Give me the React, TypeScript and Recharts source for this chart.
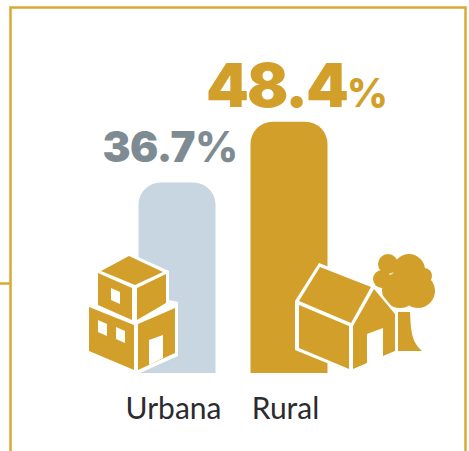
import React from 'react';
import { BarChart, Bar, XAxis, YAxis, Cell, LabelList } from 'recharts';

const categories = ['Urbana', 'Rural'];
const values = [36.7, 48.4];
const barColors = ['#C8D6E2', '#D2A02A'];
const labelColors = ['#7F8B93', '#D2A02A'];

const GOLD = '#D2A02A';
const data = categories.map((name, i) => ({ name, value: values[i] }));

const CategoryTick = ({ x, y, payload }: any) => (
  <text x={x - 3} y={y} textAnchor="middle" fontFamily="Lato, sans-serif" fontSize={30} fill="#2B2B30">
    {payload.value}
  </text>
);

const ValueLabel = ({ x, y, width, value, index }: any) => {
  const big = index === 1;
  const cx = x + width / 2 + (big ? 7 : -7);
  return (
    <text
      x={cx}
      y={y - (big ? 15 : 21)}
      textAnchor="middle"
      fontFamily="Inter, sans-serif"
      fontWeight={900}
      fill={labelColors[index]}
      fontSize={big ? 61 : 42}
      letterSpacing={big ? -2 : -0.5}
    >
      {value.toFixed(1)}
      <tspan fontSize={big ? 40 : 42} fontWeight={big ? 800 : 800}>%</tspan>
    </text>
  );
};

// Decorative frame and house/tree pictograms on top of the bars
const Decoration = () => (
  <svg width={469} height={451} style={{ position: 'absolute', left: 0, top: 0 }}>
    <path d="M0 283.5H10.5M10.5 451V7.5H465.5V451" fill="none" stroke="#D9A935" strokeWidth={2.5} />

    <polygon points="89,304 98,307 98,271 129,253 169,271 169,300 178,302 178,356 140,373 86,352" fill="#fff" />
    <polygon points="101,271 129,256 163,272 135,285" fill={GOLD} />
    <polygon points="98,273 132,288 132,320 98,305" fill={GOLD} />
    <polygon points="137,288 166,274 166,303 137,320" fill={GOLD} />
    <polygon points="89,307 134,325 134,370 89,351" fill={GOLD} />
    <polygon points="138,324 175,308 175,353 138,370" fill={GOLD} />
    <polygon points="111,288 120,292 120,304 111,300" fill="#fff" />
    <polygon points="98,320 107,324 107,336 98,332" fill="#fff" />
    <polygon points="116,327 125,331 125,343 116,339" fill="#fff" />
    <polygon points="149,340 163,335 163,358 149,365" fill="#fff" />

    <g fill={GOLD}>
      <circle cx={388} cy={264} r={10} />
      <circle cx={409} cy={270} r={16} />
      <circle cx={424} cy={276} r={8} />
      <circle cx={418} cy={291} r={17} />
      <circle cx={400} cy={290} r={18} />
      <circle cx={382} cy={279} r={9} />
      <path d="M398 312H410C411 330 411 341 422 351H398Z" />
    </g>
    <polygon points="295,301 319,263 374,285 398,314 398,352 353,372 349,372 295,350" fill="#fff" />
    <polygon points="320,267 371,287 351,323 299,301" fill={GOLD} />
    <polygon points="299,305 349,326 349,369 299,348" fill={GOLD} />
    <polygon points="353,326 374,289 395,314 395,351 383,356 383,328 367,334 367,363 353,369" fill={GOLD} />
  </svg>
);

export default function App() {
  return (
    <div style={{ position: 'absolute', left: 0, top: 0, width: 469, height: 451 }}>
      <BarChart
        width={469}
        height={451}
        data={data}
        margin={{ top: 61.6, right: 124.5, bottom: 0, left: 120.5 }}
      >
        <XAxis
          dataKey="name"
          axisLine={false}
          tickLine={false}
          interval={0}
          height={78}
          tickMargin={0}
          tick={(props: any) => <CategoryTick {...props} y={419} />}
        />
        <YAxis hide domain={[0, 60]} />
        <Bar dataKey="value" barSize={77} radius={[22, 22, 0, 0]} isAnimationActive={false}>
          {data.map((d, i) => (
            <Cell key={d.name} fill={barColors[i]} />
          ))}
          <LabelList dataKey="value" content={(props: any) => <ValueLabel {...props} />} />
        </Bar>
      </BarChart>
      <Decoration />
    </div>
  );
}
